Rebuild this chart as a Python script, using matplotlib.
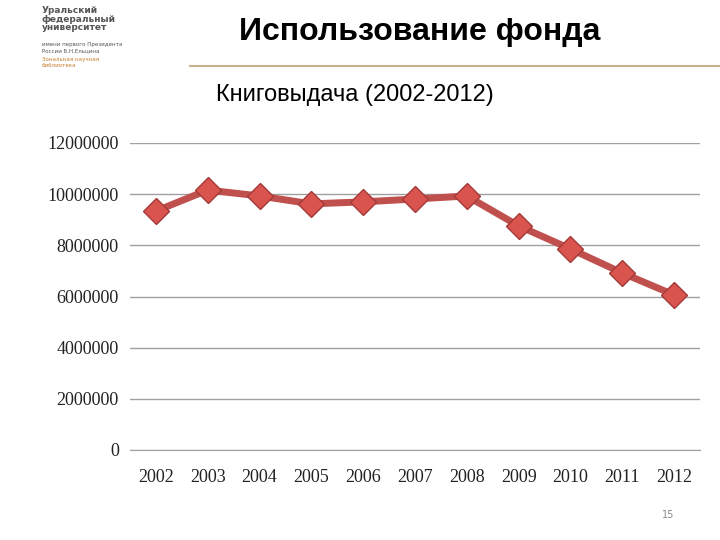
import matplotlib
matplotlib.use("Agg")
import matplotlib.pyplot as plt
from matplotlib.lines import Line2D

years = ["2002", "2003", "2004", "2005", "2006", "2007", "2008", "2009", "2010", "2011", "2012"]
loans = [9340000, 10160000, 9930000, 9620000, 9700000, 9810000, 9930000, 8760000, 7860000, 6920000, 6060000]
yticks = [0, 2000000, 4000000, 6000000, 8000000, 10000000, 12000000]

fig = plt.figure(figsize=(7.2, 5.4), dpi=100)
W, H = 720, 540

# header texts
fig.text(420 / W, 1 - 32 / H, "Использование фонда", ha="center", va="center",
         fontsize=23, fontweight="bold", family="Liberation Sans")
fig.text(355 / W, 1 - 95 / H, "Книговыдача (2002-2012)", ha="center", va="center",
         fontsize=17, family="Liberation Sans")
fig.add_artist(Line2D([190 / W, 1], [1 - 66 / H] * 2, color="#c8b48c", lw=1.5))
fig.text(42 / W, 1 - 6 / H, "Уральский\nфедеральный\nуниверситет", ha="left", va="top",
         fontsize=6.5, fontweight="bold", color="#555555", linespacing=0.95)
fig.text(42 / W, 1 - 42 / H, "имени первого Президента\nРоссии Б.Н.Ельцина", ha="left", va="top",
         fontsize=4, color="#555555")
fig.text(42 / W, 1 - 57 / H, "Зональная научная\nбиблиотека", ha="left", va="top",
         fontsize=4, color="#c87a2a")
fig.text(668 / W, 1 - 515 / H, "15", ha="center", va="center", fontsize=7, color="#888888")

ax = fig.add_axes([130 / W, 1 - 450 / H, 570 / W, 307 / H])
ax.plot(years, loans, color="#c0504d", lw=5, marker="D", markersize=13,
        markerfacecolor="#d9534f", markeredgecolor="#a33a37", markeredgewidth=1, zorder=3)
ax.set_ylim(0, 12000000)
ax.set_xlim(-0.5, len(years) - 0.5)
ax.set_yticks(yticks)
ax.set_yticklabels([str(v) for v in yticks])
ax.grid(axis="y", color="#a0a0a0", lw=1)
ax.set_axisbelow(True)
for s in ["top", "right", "left"]:
    ax.spines[s].set_visible(False)
ax.spines["bottom"].set_color("#a0a0a0")
ax.tick_params(length=0, labelsize=13, pad=8)
for lab in ax.get_xticklabels() + ax.get_yticklabels():
    lab.set_family("Liberation Serif")
    lab.set_color("#222222")
ax.tick_params(axis="x", pad=14)

fig.savefig("out.png", dpi=100)
